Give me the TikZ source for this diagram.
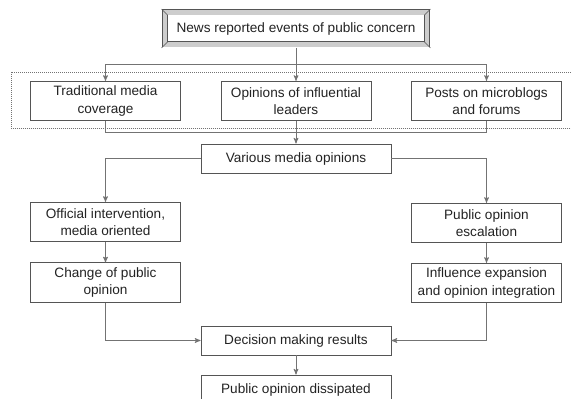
\documentclass[tikz,border=0pt]{standalone}
\usepackage{fontspec}
\setmainfont{Liberation Sans}
\usepackage{tikz}
\usetikzlibrary{calc}
\usetikzlibrary{arrows}
\definecolor{linegray}{RGB}{115,115,115}
\definecolor{boxgray}{RGB}{85,85,85}
\definecolor{framegray}{RGB}{205,205,205}
\definecolor{textgray}{RGB}{35,35,35}
\tikzset{
  stepbox/.style={draw=boxgray, fill=white, line width=.6pt, align=center, inner sep=0pt,
    minimum width=112.5pt, minimum height=29.5pt, text=textgray,
    font=\fontsize{10.2}{13.1}\selectfont},
  widebox/.style={stepbox, minimum width=142.5pt, minimum height=21.75pt},
  link/.style={draw=linegray, line width=.6pt},
}

\begin{document}
\begin{tikzpicture}[shorten >=0pt,>=stealth']
  \useasboundingbox (0,0) rectangle (428.25pt,-299.25pt);

  \node[stepbox, minimum width=196.5pt, minimum height=24pt, double=framegray, double distance=3.3pt] (news) at (222pt,-21.375pt) {News reported events of public concern};
  \node[stepbox, node distance=54.375pt] (infl) [below of=news] {Opinions of influential\\leaders};
  \node[stepbox, node distance=142.875pt] (trad) [left of=infl] {Traditional media\\coverage};
  \node[stepbox, node distance=142.875pt] (posts) [right of=infl] {Posts on microblogs\\and forums};
  \node[widebox, node distance=43.125pt] (various) [below of=infl] {Various media opinions};
  \node[stepbox, node distance=90.75pt] (official) [below of=trad] {Official intervention,\\media oriented};
  \node[stepbox, node distance=45.375pt] (change) [below of=official] {Change of public\\opinion};
  \node[stepbox, node distance=91.5pt] (escal) [below of=posts] {Public opinion\\escalation};
  \node[stepbox, node distance=45pt] (expand) [below of=escal] {Influence expansion\\and opinion integration};
  \node[widebox, node distance=136.5pt] (decision) [below of=various] {Decision making results};
  \node[widebox, node distance=37.125pt, minimum height=22.5pt] (dissip) [below of=decision] {Public opinion dissipated};

  % bevel corners of the title frame
  \foreach \cx/\cy/\anc in {-1/1/north west, 1/1/north east, -1/-1/south west, 1/-1/south east}
    \draw [boxgray, line width=.4pt] ($(news.\anc)+(\cx*2.25pt,\cy*2.25pt)$) -- ($(news.\anc)-(\cx*2.25pt,\cy*2.25pt)$);

  % dotted group of the three sources
  \draw [linegray, densely dotted, line width=.5pt] ($(trad.north west)+(-14.25pt,6.75pt)$) rectangle ($(posts.south east)+(10pt,-5.6pt)$);

  \coordinate (bustop) at ($(infl.north)+(0,12.75pt)$);
  \coordinate (busbot) at ($(infl.south)+(0,-8.25pt)$);

  \draw [link,->] ($(news.south)+(0,-2.25pt)$) -- (infl);
  \draw [link,->] (bustop) -| (trad);
  \draw [link,->] (bustop) -| (posts);
  \draw [link] (trad.south) |- (busbot) -| (posts.south);
  \draw [link,->] (infl) -- (various);
  \draw [link,->] (various.west) -| (official);
  \draw [link,->] (various.east) -| (escal);
  \draw [link,->] (official) -- (change);
  \draw [link,->] (escal) -- (expand);
  \draw [link,->] (change.south) |- (decision.west);
  \draw [link,->] (expand.south) |- (decision.east);
  \draw [link,->] (decision) -- (dissip);
\end{tikzpicture}
\end{document}
